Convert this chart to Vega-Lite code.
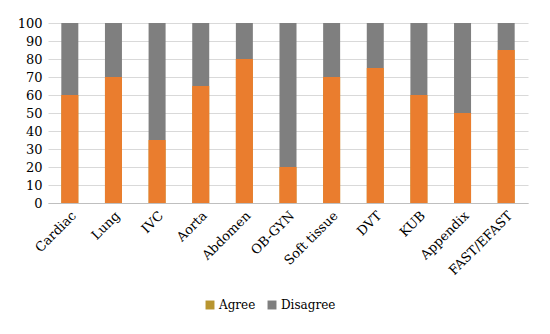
{
  "$schema": "https://vega.github.io/schema/vega-lite/v6.json",
  "width": 480,
  "height": 180,
  "autosize": {"type": "none"},
  "padding": {"left": 48, "top": 23, "right": 22, "bottom": 131},
  "background": "white",
  "data": {
    "values": [
      {"Region": "Cardiac", "Response": "Agree", "Value": 60, "o": 0},
      {"Region": "Cardiac", "Response": "Disagree", "Value": 40, "o": 1},
      {"Region": "Lung", "Response": "Agree", "Value": 70, "o": 0},
      {"Region": "Lung", "Response": "Disagree", "Value": 30, "o": 1},
      {"Region": "IVC", "Response": "Agree", "Value": 35, "o": 0},
      {"Region": "IVC", "Response": "Disagree", "Value": 65, "o": 1},
      {"Region": "Aorta", "Response": "Agree", "Value": 65, "o": 0},
      {"Region": "Aorta", "Response": "Disagree", "Value": 35, "o": 1},
      {"Region": "Abdomen", "Response": "Agree", "Value": 80, "o": 0},
      {"Region": "Abdomen", "Response": "Disagree", "Value": 20, "o": 1},
      {"Region": "OB-GYN", "Response": "Agree", "Value": 20, "o": 0},
      {"Region": "OB-GYN", "Response": "Disagree", "Value": 80, "o": 1},
      {"Region": "Soft tissue", "Response": "Agree", "Value": 70, "o": 0},
      {"Region": "Soft tissue", "Response": "Disagree", "Value": 30, "o": 1},
      {"Region": "DVT", "Response": "Agree", "Value": 75, "o": 0},
      {"Region": "DVT", "Response": "Disagree", "Value": 25, "o": 1},
      {"Region": "KUB", "Response": "Agree", "Value": 60, "o": 0},
      {"Region": "KUB", "Response": "Disagree", "Value": 40, "o": 1},
      {"Region": "Appendix", "Response": "Agree", "Value": 50, "o": 0},
      {"Region": "Appendix", "Response": "Disagree", "Value": 50, "o": 1},
      {"Region": "FAST/EFAST", "Response": "Agree", "Value": 85, "o": 0},
      {"Region": "FAST/EFAST", "Response": "Disagree", "Value": 15, "o": 1}
    ]
  },
  "encoding": {
    "x": {
      "field": "Region",
      "type": "nominal",
      "sort": null,
      "title": null,
      "axis": {
        "labelAngle": -45,
        "labelFont": "DejaVu Serif",
        "labelFontSize": 13,
        "labelColor": "#000000",
        "domainColor": "#BFBFBF",
        "ticks": false,
        "labelPadding": 6
      }
    },
    "y": {
      "field": "Value",
      "type": "quantitative",
      "stack": "zero",
      "title": null,
      "scale": {"domain": [0, 100]},
      "axis": {
        "values": [0, 10, 20, 30, 40, 50, 60, 70, 80, 90, 100],
        "labelFont": "DejaVu Serif",
        "labelFontSize": 13,
        "labelColor": "#000000",
        "domain": false,
        "ticks": false,
        "labelPadding": 6,
        "gridColor": "#D9D9D9"
      }
    },
    "order": {"field": "o"}
  },
  "layer": [
    {
      "mark": {"type": "bar", "size": 17},
      "encoding": {
        "color": {
          "field": "Response",
          "type": "nominal",
          "scale": {"domain": ["Agree", "Disagree"], "range": ["#B8952F", "#7F7F7F"]},
          "legend": {
            "title": null,
            "orient": "none",
            "legendX": 156,
            "legendY": 276,
            "direction": "horizontal",
            "symbolType": "square",
            "symbolSize": 80,
            "symbolStrokeWidth": 0,
            "labelFont": "DejaVu Serif",
            "labelFontSize": 12,
            "labelOffset": 3,
            "labelColor": "#000000",
            "columnPadding": 10
          }
        }
      }
    },
    {
      "transform": [{"filter": "datum.Response === 'Agree'"}],
      "mark": {"type": "bar", "size": 17, "color": "#EA7D2E"}
    }
  ],
  "config": {
    "view": {"stroke": null},
    "legend": {"labelFont": "DejaVu Serif", "labelFontSize": 12, "labelColor": "#000000"}
  }
}
